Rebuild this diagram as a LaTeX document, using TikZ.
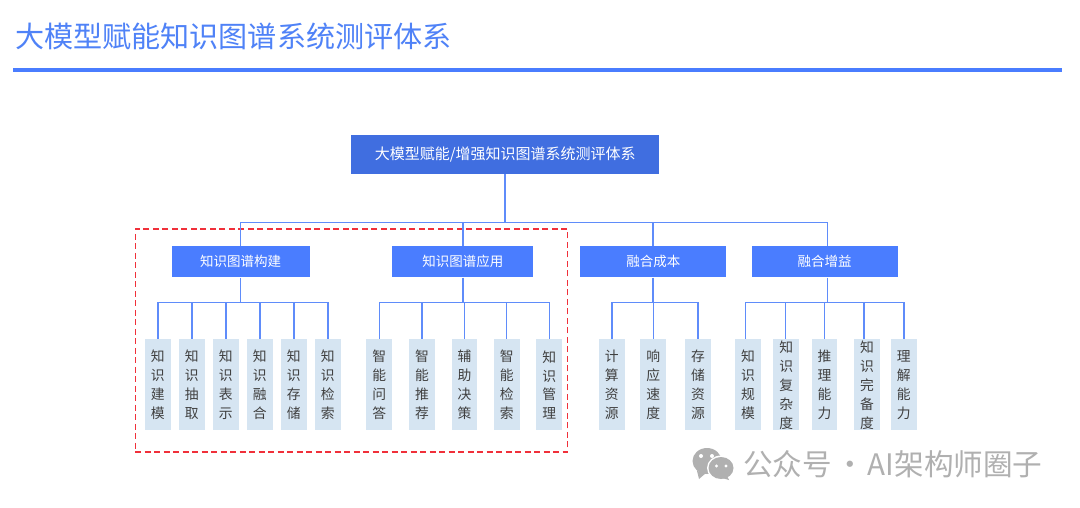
\documentclass[tikz,border=0pt]{standalone}
\usepackage{fontspec}
\setmainfont{Noto Sans CJK SC}
\definecolor{bluemain}{HTML}{4A7DFF}
\definecolor{blueroot}{HTML}{406EE0}
\definecolor{bluetitle}{HTML}{4F82F7}
\definecolor{blueline}{HTML}{5F8CFA}
\definecolor{leaffill}{HTML}{D6E5F2}
\definecolor{leaftext}{HTML}{404040}
\definecolor{redframe}{HTML}{F0303A}
\definecolor{markgrey}{HTML}{B0B0B0}
\tikzset{
  x=1pt,y=-1pt,
  rootbox/.style={fill=blueroot,text=white,minimum width=308pt,minimum height=38.4pt,inner sep=0pt,font=\fontsize{15}{16}\selectfont},
  headbox/.style={fill=bluemain,text=white,minimum height=31pt,inner sep=0pt,font=\fontsize{13.5}{15}\selectfont},
  leafbox/.style={fill=leaffill,minimum width=25.7pt,minimum height=91pt,inner sep=0pt,
    path picture={\node[text=leaftext,align=center,inner sep=0pt,font=\fontsize{13.8}{18.9}\selectfont] at ([yshift=-0.5pt]path picture bounding box.center) {#1};}},
  conn/.style={draw=blueline,line width=1.4pt},
  frame/.style={draw=redframe,line width=1.1pt,dash pattern=on 6pt off 3.5pt,minimum width=432.3pt,minimum height=223pt,inner sep=0pt},
}
\begin{document}
\begin{tikzpicture}
\useasboundingbox[fill=white] (0,0) rectangle (1080,507);
% title
\node[anchor=west,inner sep=0pt,text=bluetitle,font=\fontsize{29.1}{32}\selectfont] (title) at (15,36) {大模型赋能知识图谱系统测评体系};
\node[fill=bluemain,minimum width=1049pt,minimum height=4pt,inner sep=0pt] (rule) at (537.5,70) {};
% dashed frame
\node[frame] (redbox) at (351.2,340.5) {};
% root and heads
\node[rootbox] (root) at (505.3,154.5) {大模型赋能/增强知识图谱系统测评体系};
\node[headbox,minimum width=138pt] (h1) at (240.7,261.8) {知识图谱构建};
\node[headbox,minimum width=141pt] (h2) at (462.8,261.8) {知识图谱应用};
\node[headbox,minimum width=146pt] (h3) at (653.3,261.8) {融合成本};
\node[headbox,minimum width=146pt] (h4) at (824.7,261.8) {融合增益};
% leaves
\foreach \n/\cx/\t in {
  a1/157.8/知\\识\\建\\模, a2/191.8/知\\识\\抽\\取, a3/225.8/知\\识\\表\\示,
  a4/259.8/知\\识\\融\\合, a5/293.8/知\\识\\存\\储, a6/327.8/知\\识\\检\\索,
  b1/379.3/智\\能\\问\\答, b2/422/智\\能\\推\\荐, b3/464.5/辅\\助\\决\\策,
  b4/506.7/智\\能\\检\\索, b5/549.2/知\\识\\管\\理,
  c1/611.8/计\\算\\资\\源, c2/653.2/响\\应\\速\\度, c3/698/存\\储\\资\\源,
  d1/748/知\\识\\规\\模, d2/786.2/知\\识\\复\\杂\\度, d3/824.5/推\\理\\能\\力,
  d4/867/知\\识\\完\\备\\度, d5/903.8/理\\解\\能\\力}
{
  \node[leafbox/.expanded={\t}] (\n) at (\cx,384.5) {};
}
% connectors
\coordinate (top) at (505,222.3);
\coordinate (ba) at (240.3,302.3);
\coordinate (bb) at (462.8,302.3);
\coordinate (bc) at (652.8,302.3);
\coordinate (bd) at (827.7,302.3);
\draw[conn] (root.south -| top) -- (top);
\draw[conn] (h1.north -| ba) |- (top);
\draw[conn] (h4.north -| bd) |- (top);
\draw[conn] (h2.north -| bb) -- (top -| bb);
\draw[conn] (h3.north -| bc) -- (top -| bc);
\draw[conn] (h1.south -| ba) -- (ba);
\draw[conn] (h2.south -| bb) -- (bb);
\draw[conn] (h3.south -| bc) -- (bc);
\draw[conn] (h4.south -| bd) -- (bd);
\draw[conn] (a1.north) |- (ba);
\draw[conn] (a6.north) |- (ba);
\foreach \n in {a2,a3,a4,a5} {\draw[conn] (\n.north) -- (\n.north |- ba);}
\draw[conn] (b1.north) |- (bb);
\draw[conn] (b5.north) |- (bb);
\foreach \n in {b2,b3,b4} {\draw[conn] (\n.north) -- (\n.north |- bb);}
\draw[conn] (c1.north) |- (bc);
\draw[conn] (c3.north) |- (bc);
\draw[conn] (c2.north) -- (c2.north |- bc);
\draw[conn] ([xshift=-2.3pt]d1.north) |- (bd);
\draw[conn] (d5.north) |- (bd);
\foreach \n/\s in {d2/-0.5,d3/0,d4/-3} {\draw[conn] ([xshift=\s pt]\n.north) -- ([xshift=\s pt]\n.north |- bd);}
% watermark
\fill[markgrey] (707,461) ellipse (14.5pt and 13pt);
\fill[markgrey] (697,471) -- (699,479) -- (706,473) -- cycle;
\fill[white] (721,468) ellipse (14pt and 12.5pt);
\fill[markgrey] (721,468) ellipse (12.5pt and 11pt);
\fill[markgrey] (727,476) -- (729,480) -- (722,478) -- cycle;
\fill[white] (701,456) circle (2pt) (712,456) circle (2pt) (716.5,466) circle (1.7pt) (726,466) circle (1.7pt);
\node[anchor=west,inner sep=0pt,text=markgrey,font=\fontsize{29.6}{32}\selectfont] (mark) at (743,464) {公众号 \hspace{-3.5pt}·\hspace{-3.5pt} AI架构师圈子};
\end{tikzpicture}
\end{document}
